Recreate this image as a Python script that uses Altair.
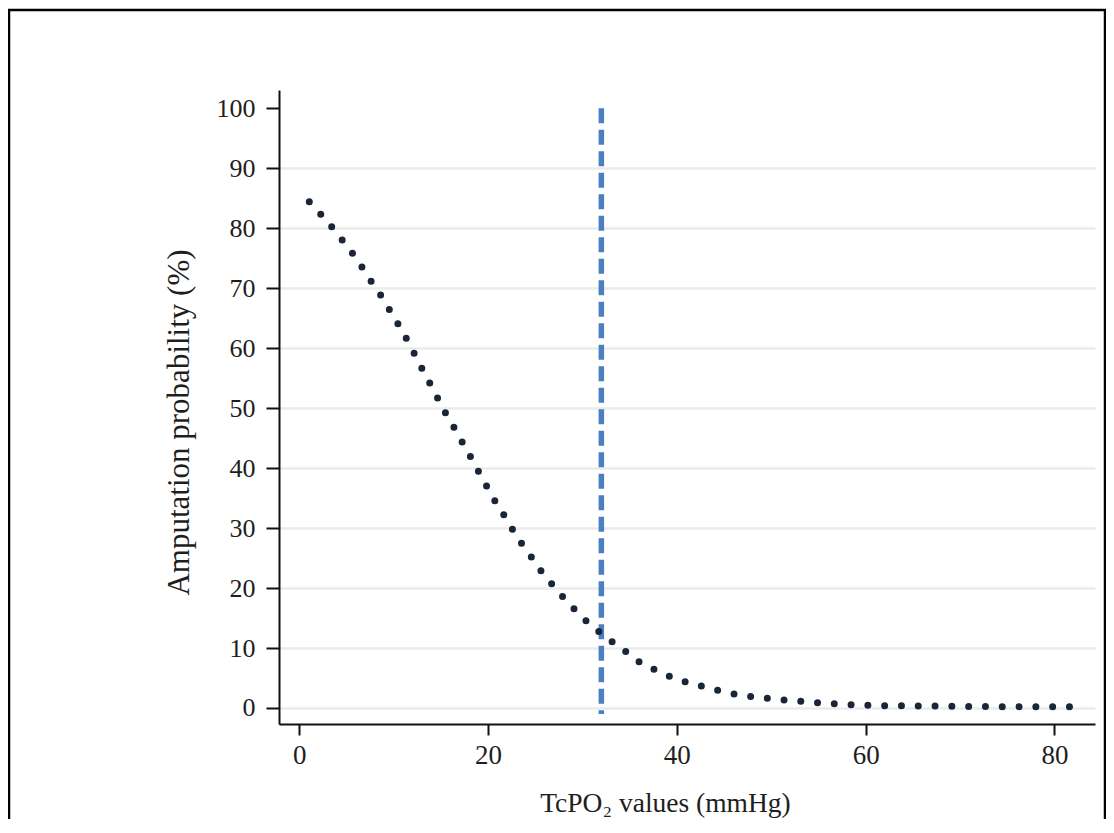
import altair as alt
import pandas as pd

# Curve (TcPO2 mmHg, amputation probability %)
tcpo2 = [1.06, 2.30, 3.50, 4.66, 5.79, 6.85, 7.88, 8.90, 9.85, 10.81, 11.69, 12.54,
         13.39, 14.27, 15.12, 16.07, 16.95, 17.90, 18.79, 19.67, 20.55, 21.55, 22.50,
         23.52, 24.62, 25.68, 26.85, 28.05, 29.31, 30.69, 32.10, 33.62, 35.14, 36.17,
         37.79, 39.38, 41.00, 42.73, 44.46, 46.19, 47.92, 49.68, 51.45, 53.22, 56.57,
         60.0, 65.0, 70.0, 75.0, 81.64]
prob = [84.4, 82.3, 80.1, 77.8, 75.5, 73.0, 70.5, 68.2, 65.6, 63.1, 60.6, 58.0,
        55.4, 52.9, 50.2, 47.7, 45.2, 42.6, 40.0, 37.5, 35.0, 32.5, 30.0,
        27.5, 25.1, 22.7, 20.5, 18.3, 16.2, 14.1, 12.3, 10.5, 8.8, 7.5,
        6.3, 5.2, 4.3, 3.6, 2.9, 2.3, 1.9, 1.6, 1.3, 1.1, 0.7,
        0.45, 0.35, 0.28, 0.22, 0.2]

cutoff_x = [32.0]
cutoff_y = [100.0]
cutoff_y2 = [-1.0]

x_ticks = [0, 20, 40, 60, 80]
y_ticks = [0, 10, 20, 30, 40, 50, 60, 70, 80, 90, 100]

FONT = "Liberation Serif"

curve_df = pd.DataFrame({"x": tcpo2, "y": prob})
cut_df = pd.DataFrame({"x": cutoff_x, "y": cutoff_y, "y2": cutoff_y2})

xscale = alt.Scale(domain=[-2.15, 84.3], nice=False, zero=False)
yscale = alt.Scale(domain=[-2.67, 103.05], nice=False, zero=False)

xaxis = alt.Axis(
    values=x_ticks, title="TcPO\u2082 values (mmHg)", grid=False,
    domainColor="#111", domainWidth=2, tickColor="#111", tickWidth=2, tickSize=11,
    labelFont=FONT, labelFontSize=27, labelColor="#1e1e1e", labelPadding=7,
    titleFont=FONT, titleFontSize=27.5, titleFontWeight="normal", titleColor="#1e1e1e",
    titleX=386, titleY=87, titleBaseline="alphabetic", titleAlign="center",
)
yaxis = alt.Axis(
    values=y_ticks, title="Amputation probability (%)",
    grid=True, gridColor={"condition": {"test": "datum.value >= 100", "value": "transparent"}, "value": "#ebebeb"},
    gridWidth=2.5,
    domainColor="#111", domainWidth=2, tickColor="#111", tickWidth=2, tickSize=13,
    labelFont=FONT, labelFontSize=26, labelColor="#1e1e1e", labelPadding=11,
    titleFont=FONT, titleFontSize=31, titleFontWeight="normal", titleColor="#1e1e1e",
    titleAngle=270, titleX=-91, titleY=332, titleBaseline="alphabetic", titleAlign="center",
)

curve = alt.Chart(curve_df).mark_line(
    color="#1a2536", strokeWidth=7, strokeCap="round", strokeDash=[0, 16.8],
    interpolate="monotone",
).encode(
    x=alt.X("x:Q", scale=xscale, axis=xaxis),
    y=alt.Y("y:Q", scale=yscale, axis=yaxis),
)

cut = alt.Chart(cut_df).mark_rule(
    color="#4a7fc2", strokeWidth=5.5, strokeDash=[15, 6.5],
).encode(
    x=alt.X("x:Q", scale=xscale),
    y=alt.Y("y:Q", scale=yscale),
    y2="y2:Q",
)

# outer frame (decoration)
frame_left = alt.Chart(cut_df).mark_rule(color="black", strokeWidth=2.5).encode(
    x=alt.value(-270), y=alt.value(-80), y2=alt.value(760))
frame_top = alt.Chart(cut_df).mark_rule(color="black", strokeWidth=2.5).encode(
    x=alt.value(-271), x2=alt.value(827), y=alt.value(-80))
frame_right = alt.Chart(cut_df).mark_rule(color="black", strokeWidth=2.5).encode(
    x=alt.value(826), y=alt.value(-80), y2=alt.value(760))

chart = alt.layer(cut, curve, frame_left, frame_top, frame_right).properties(
    width=816, height=634,
    autosize=alt.AutoSizeParams(type="none"),
    padding={"left": 271, "top": 82, "right": 11, "bottom": 95},
    view=alt.ViewBackground(stroke="transparent", strokeWidth=0),
).configure_view(stroke="transparent", strokeWidth=0, clip=False).configure(background="white")

chart.save("out.html", embed_options={"renderer": "svg", "actions": False})
